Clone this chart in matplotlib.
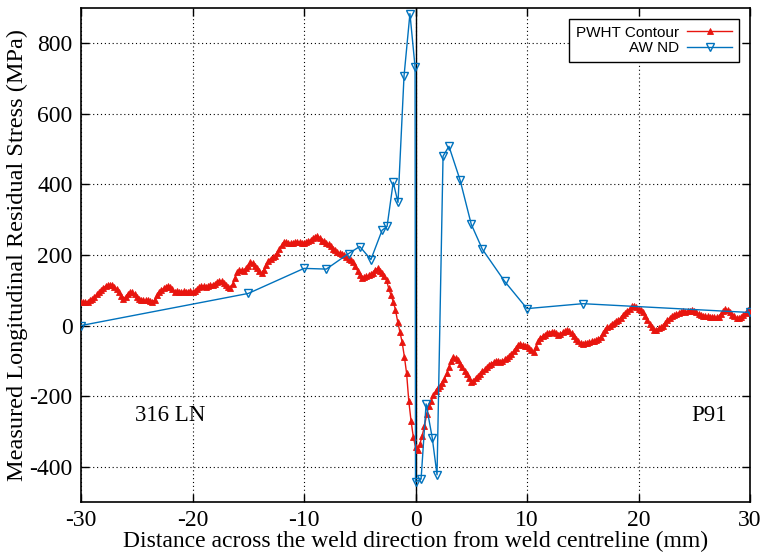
import numpy as np
import matplotlib
matplotlib.use("Agg")
import matplotlib.pyplot as plt

plt.rcParams["axes.unicode_minus"] = False

# ---------------- data ----------------
# PWHT Contour: positions every 0.2 mm from -30 to 30
pwht_x = np.round(np.arange(-30.0, 30.0001, 0.2), 2)
pwht_y = [
    68, 66, 67, 68, 72, 75, 80, 88, 94, 101,
    107, 112, 114, 116, 115, 110, 103, 95, 84, 75,
    82, 90, 95, 94, 88, 82, 76, 71, 72, 71,
    73, 70, 68, 72, 86, 95, 100, 105, 110, 113,
    110, 103, 96, 97, 95, 96, 97, 95, 96, 98,
    96, 99, 104, 108, 112, 113, 110, 111, 114, 116,
    119, 123, 127, 126, 121, 116, 110, 105, 119, 135,
    152, 158, 157, 154, 162, 170, 180, 177, 170, 162,
    155, 148, 158, 172, 184, 190, 193, 197, 205, 216,
    228, 237, 238, 235, 233, 234, 237, 238, 236, 233,
    233, 236, 240, 243, 248, 252, 255, 249, 241, 239,
    235, 231, 225, 218, 213, 208, 206, 203, 200, 195,
    190, 186, 180, 168, 155, 143, 135, 137, 140, 142,
    145, 150, 157, 162, 156, 148, 140, 128, 105, 86,
    68, 45, 11, -18, -47, -88, -135, -215, -270, -315,
    -345, -352, -335, -312, -285, -252, -228, -213, -198, -186,
    -176, -170, -163, -152, -135, -118, -100, -88, -92, -99,
    -108, -118, -128, -138, -150, -159, -156, -148, -142, -136,
    -130, -124, -118, -112, -108, -104, -101, -100, -102, -101,
    -96, -92, -87, -80, -72, -63, -56, -51, -54, -57,
    -59, -63, -70, -76, -60, -45, -34, -30, -26, -22,
    -20, -17, -18, -22, -26, -24, -19, -16, -14, -15,
    -22, -30, -38, -45, -50, -51, -49, -50, -48, -45,
    -44, -42, -38, -33, -22, -12, -5, -2, 3, 8,
    12, 16, 22, 30, 36, 40, 48, 55, 56, 52,
    48, 44, 38, 26, 16, 5, -5, -12, -13, -8,
    -4, 0, 8, 15, 22, 26, 30, 33, 36, 38,
    40, 39, 41, 42, 43, 41, 37, 33, 29, 27,
    27, 26, 25, 24, 24, 23, 25, 32, 42, 47,
    45, 38, 30, 26, 22, 20, 24, 30, 36, 43,
    38,
]

# AW ND (neutron diffraction)
awnd_x = [-30, -15, -10, -8, -6, -5, -4, -3, -2.55, -2.0, -1.57, -1.03, -0.5,
          -0.04, 0.0, 0.5, 0.95, 1.5, 1.93, 2.47, 3.0, 4.0, 5.0, 6.0, 8.0,
          10.0, 15.0, 30.0]
awnd_y = [0, 91, 162, 160, 204, 224, 187, 270, 281, 406, 349, 707, 884,
          733, -443, -435, -222, -318, -423, 480, 508, 412, 287, 216, 125,
          48, 62, 37]

series_labels = ["PWHT Contour", "AW ND"]
x_ticks = [-30, -20, -10, 0, 10, 20, 30]
y_ticks = [-400, -200, 0, 200, 400, 600, 800]

# ---------------- plot ----------------
serif = ["Liberation Serif", "DejaVu Serif"]
sans = ["Liberation Sans", "DejaVu Sans"]

fig = plt.figure(figsize=(7.65, 5.58), dpi=100)
ax = fig.add_axes([0.1059, 0.1004, 0.8745, 0.8853])

red = "#e8150f"
blue = "#0072bd"

ax.axvline(0, color="black", lw=1.0, zorder=1.5)
ax.plot(pwht_x, pwht_y, color=red, lw=1.0, marker="^", ms=5,
        mfc=red, mec=red, mew=0.6, label=series_labels[0], zorder=3)
ax.plot(awnd_x, awnd_y, color=blue, lw=1.0, marker="v", ms=6,
        mfc="none", mec=blue, mew=1.0, label=series_labels[1], zorder=4)

ax.set_xlim(-30, 30)
ax.set_ylim(-500, 900)
ax.set_xticks(x_ticks)
ax.set_yticks(y_ticks)
ax.grid(True, color="black", linestyle=(0, (1, 2.5)), lw=0.8)
ax.tick_params(direction="in", length=6, width=1, top=True, right=True,
               labelsize=17, pad=6)
for lab in ax.get_xticklabels() + ax.get_yticklabels():
    lab.set_family(serif)
for s in ax.spines.values():
    s.set_linewidth(1.2)

ax.set_xlabel("Distance across the weld direction from weld centreline (mm)",
              family=serif, fontsize=17, labelpad=0)
ax.set_ylabel("Measured Longitudinal Residual Stress (MPa)",
              family=serif, fontsize=17.5, labelpad=1)

ax.text(-22, -255, "316 LN", family=serif, fontsize=16.5, ha="center", va="center")
ax.text(26.3, -255, "P91", family=serif, fontsize=16.5, ha="center", va="center")

leg = ax.legend(loc="upper right", markerfirst=False, fancybox=False,
                framealpha=1, edgecolor="black", prop={"family": sans, "size": 11},
                borderaxespad=0.7, handlelength=3.0, labelspacing=0.1,
                borderpad=0.45, handletextpad=0.5)
leg.get_frame().set_linewidth(1.0)
for t in leg.get_texts():
    t.set_ha("right")

fig.savefig("out.png", dpi=100)
